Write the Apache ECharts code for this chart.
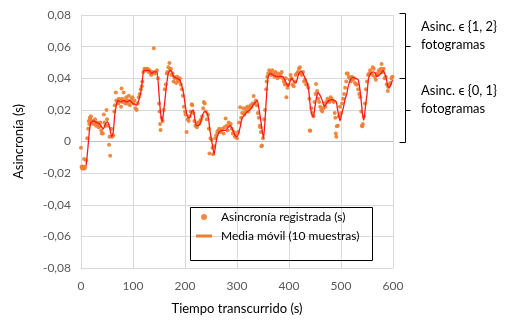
<!DOCTYPE html>
<html><head><meta charset="utf-8">
<script src="https://cdn.jsdelivr.net/npm/echarts@6/dist/echarts.min.js"></script>
<style>html,body{margin:0;padding:0;background:#fff}#c{width:507px;height:320px}</style>
</head><body><div id="c"></div>
<script>
const xTicks = [0, 100, 200, 300, 400, 500, 600];
const yTicks = [-0.08, -0.06, -0.04, -0.02, 0, 0.02, 0.04, 0.06, 0.08];
const seriesNames = ['Asincronía registrada (s)', 'Media móvil (10 muestras)'];
const annotations = ['Asinc. ϵ {1, 2}', 'fotogramas', 'Asinc. ϵ {0, 1}', 'fotogramas'];

// recorded asynchrony [time s, asynchrony s]
const recorded = [
[0,-0.004],[1,-0.016],[2,-0.017],[3,-0.016],[4,-0.017],[5,-0.016],[6,-0.011],[7,-0.017],[8,-0.016],[10,-0.012],
[12,0.002],[14,0.008],[15,0.013],[16,0.011],[17,0.015],[18,0.014],[19,0.016],[21,0.012],[22,0.013],[24,0.011],
[26,0.012],[27,0.014],[29,0.010],[31,0.012],[32,0.011],[34,0.009],[36,0.010],[37,0.012],[39,0.007],[40,0.005],
[42,0.005],[44,0.017],[45,0.012],[47,0.010],[49,0.020],[50,0.014],[52,0.010],[54,-0.002],[55,0.003],[56,-0.009],
[58,0.008],[60,0.003],[62,0.004],[64,0.019],[65,0.023],[67,0.031],[68,0.026],[70,0.025],[72,0.024],[73,0.027],
[75,0.026],[77,0.022],[78,0.0335],[79,0.027],[80,0.025],[82,0.031],[84,0.026],[85,0.024],[87,0.028],[89,0.024],
[90,0.026],[92,0.029],[94,0.023],[96,0.025],[97,0.027],[99,0.028],[101,0.024],[103,0.026],[105,0.021],[107,0.020],
[109,0.024],[111,0.028],[113,0.030],[115,0.033],[117,0.035],[118,0.038],[120,0.044],[122,0.046],[123,0.045],[125,0.046],
[127,0.045],[128,0.046],[130,0.044],[132,0.045],[134,0.043],[135,0.042],[137,0.044],[139,0.043],[140,0.059],[142,0.044],
[144,0.043],[146,0.045],[148,0.040],[150,0.024],[151,0.019],[152,0.011],[153,0.0072],[155,0.015],[157,0.013],[159,0.020],
[161,0.033],[163,0.036],[165,0.043],[166,0.044],[168,0.047],[170,0.0497],[171,0.045],[173,0.046],[174,0.042],[176,0.043],
[178,0.038],[179,0.041],[181,0.040],[183,0.037],[185,0.041],[186,0.039],[188,0.038],[190,0.040],[192,0.036],[194,0.033],
[196,0.029],[198,0.022],[200,0.019],[201,0.017],[203,0.006],[205,0.014],[207,0.013],[209,0.016],[211,0.019],[213,0.0236],
[214,0.023],[216,0.018],[218,0.013],[220,0.010],[222,0.011],[223,0.009],[225,0.012],[227,0.011],[229,0.013],[231,0.014],
[233,0.016],[235,0.021],[236,0.025],[238,0.024],[240,0.019],[242,0.014],[244,0.017],[246,0.008],[247,-0.0076],[249,0.002],
[251,0.001],[253,-0.004],[254,-0.008],[256,-0.003],[258,0.002],[260,0.004],[262,0.006],[264,0.007],[266,0.008],[268,0.006],
[270,0.007],[272,0.008],[274,0.005],[276,0.009],[278,0.0146],[280,0.010],[282,0.007],[284,0.012],[286,0.010],[288,0.011],
[290,0.008],[292,0.005],[294,0.006],[296,0.003],[298,0.004],[300,0.002],[302,0.006],[304,0.012],[306,0.0217],[308,0.015],
[310,0.018],[312,0.021],[314,0.017],[316,0.019],[318,0.021],[320,0.022],[322,0.019],[324,0.021],[326,0.023],[328,0.022],
[330,0.024],[332,0.0287],[334,0.024],[336,0.026],[338,0.023],[340,0.018],[342,0.015],[344,0.010],[345,0.009],[346,0.006],
[347,-0.003],[348,-0.0025],[350,0.002],[352,0.014],[354,0.020],[356,0.033],[357,0.038],[358,0.041],[360,0.043],[362,0.045],
[364,0.044],[366,0.042],[368,0.045],[370,0.043],[372,0.041],[374,0.044],[376,0.042],[378,0.040],[380,0.043],[382,0.041],
[384,0.042],[386,0.044],[388,0.040],[390,0.038],[392,0.036],[394,0.040],[395,0.028],[397,0.034],[399,0.036],[401,0.039],
[403,0.042],[405,0.040],[407,0.036],[409,0.035],[411,0.038],[413,0.042],[415,0.043],[417,0.044],[419,0.046],[421,0.047],
[423,0.043],[425,0.042],[427,0.044],[429,0.038],[431,0.039],[433,0.036],[435,0.036],[437,0.034],[439,0.027],[440,0.007],
[441,0.0068],[443,0.021],[445,0.018],[447,0.016],[449,0.025],[451,0.030],[452,0.0363],[454,0.032],[456,0.027],[458,0.025],
[460,0.022],[462,0.020],[464,0.019],[466,0.021],[468,0.024],[470,0.022],[472,0.025],[474,0.027],[476,0.026],[478,0.025],
[480,0.028],[482,0.027],[484,0.026],[486,0.025],[488,0.018],[489,0.015],[490,0.005],[491,0.003],[492,0.0097],[494,0.010],
[496,0.016],[498,0.022],[500,0.018],[502,0.024],[504,0.027],[506,0.030],[508,0.034],[510,0.038],[511,0.043],[513,0.043],
[515,0.041],[517,0.040],[519,0.038],[521,0.041],[523,0.039],[525,0.040],[527,0.037],[529,0.036],[531,0.036],[533,0.033],
[535,0.030],[537,0.028],[539,0.019],[540,0.010],[541,0.0097],[542,0.011],[544,0.016],[546,0.024],[548,0.033],[550,0.038],
[552,0.042],[554,0.043],[556,0.045],[558,0.043],[560,0.042],[561,0.047],[563,0.046],[565,0.041],[567,0.039],[569,0.043],
[571,0.042],[573,0.045],[575,0.044],[577,0.046],[578,0.049],[580,0.044],[582,0.046],[584,0.040],[586,0.041],[588,0.036],
[590,0.032],[591,0.0345],[593,0.036],[595,0.037],[597,0.040],[599,0.041]
];

// moving average [time s, asynchrony s]
const movingAvg = [
[10,-0.015],[13,-0.005],[16,0.006],[19,0.012],[24,0.013],[30,0.012],[36,0.011],[40,0.009],[43,0.008],[47,0.011],
[51,0.0125],[55,0.009],[59,0.003],[62,0.006],[65,0.017],[68,0.023],[71,0.026],[76,0.025],[82,0.026],[88,0.025],
[94,0.026],[100,0.024],[107,0.023],[111,0.026],[115,0.031],[118,0.039],[121,0.045],[126,0.045],[131,0.045],[136,0.043],
[140,0.044],[146,0.044],[150,0.03],[153,0.018],[156,0.0125],[159,0.019],[162,0.028],[165,0.037],[168,0.043],[172,0.045],
[175,0.044],[178,0.041],[184,0.040],[190,0.039],[194,0.035],[197,0.031],[200,0.024],[203,0.018],[206,0.015],[209,0.015],
[213,0.019],[216,0.020],[219,0.014],[222,0.010],[226,0.010],[230,0.012],[234,0.017],[238,0.019],[242,0.018],[245,0.015],
[248,0.007],[251,0.001],[254,-0.005],[256,-0.008],[259,-0.002],[262,0.003],[266,0.006],[272,0.007],[278,0.007],[283,0.009],
[287,0.010],[291,0.008],[296,0.004],[300,0.003],[303,0.005],[306,0.009],[310,0.015],[315,0.017],[320,0.019],[325,0.020],
[331,0.023],[336,0.025],[339,0.026],[342,0.021],[345,0.015],[348,0.008],[351,0.002],[354,0.014],[357,0.030],[360,0.041],
[364,0.043],[370,0.042],[376,0.041],[382,0.041],[388,0.041],[392,0.039],[396,0.036],[399,0.035],[402,0.038],[405,0.040],
[409,0.038],[413,0.037],[418,0.042],[423,0.0447],[427,0.043],[431,0.040],[435,0.037],[438,0.032],[441,0.022],[444,0.017],
[447,0.0155],[450,0.022],[453,0.028],[456,0.031],[460,0.029],[464,0.026],[468,0.022],[472,0.024],[477,0.026],[482,0.0265],
[487,0.026],[491,0.025],[494,0.019],[498,0.013],[501,0.017],[505,0.022],[508,0.027],[511,0.030],[514,0.035],[518,0.039],
[523,0.0405],[528,0.040],[533,0.039],[536,0.034],[539,0.025],[542,0.016],[544,0.0135],[547,0.022],[550,0.030],[553,0.040],
[557,0.043],[562,0.044],[566,0.043],[569,0.041],[573,0.042],[577,0.043],[581,0.045],[584,0.043],[587,0.040],[590,0.035],
[593,0.034],[596,0.036],[599,0.039]
];

const FONT = 'Lato, "Open Sans", sans-serif';
const chart = echarts.init(document.getElementById('c'), null, {renderer: 'canvas'});
const fmtY = v => Math.abs(v) < 1e-9 ? '0' : v.toFixed(2).replace('.', ',');

chart.setOption({
  animation: false,
  backgroundColor: '#fff',
  textStyle: {fontFamily: FONT},
  grid: {left: 81, right: 114, top: 15, bottom: 52, containLabel: false},
  xAxis: {
    type: 'value', min: xTicks[0], max: xTicks[xTicks.length - 1], interval: 100,
    name: 'Tiempo transcurrido (s)', nameLocation: 'middle', nameGap: 34,
    nameTextStyle: {color: '#000', fontSize: 13, fontFamily: FONT},
    axisLine: {show: true, onZero: false, lineStyle: {color: '#D9D9D9'}},
    axisTick: {show: false},
    axisLabel: {color: '#595959', fontSize: 12, margin: 12, fontFamily: FONT},
    splitLine: {show: true, lineStyle: {color: '#D9D9D9', width: 1}}
  },
  yAxis: {
    type: 'value', min: yTicks[0], max: yTicks[yTicks.length - 1], interval: 0.02,
    name: 'Asincronía (s)', nameLocation: 'middle', nameGap: 56, nameRotate: 90,
    nameTextStyle: {color: '#000', fontSize: 13, fontFamily: FONT},
    axisLine: {show: true, lineStyle: {color: '#D9D9D9'}},
    axisTick: {show: false},
    axisLabel: {color: '#595959', fontSize: 12, margin: 10, fontFamily: FONT, formatter: fmtY},
    splitLine: {show: true, lineStyle: {color: '#D9D9D9', width: 1}}
  },
  legend: {
    orient: 'vertical', left: 190, top: 211,
    itemWidth: 16, itemHeight: 6, itemGap: 7,
    padding: [0, 0, 0, 6],
    textStyle: {color: '#000', fontSize: 12, fontFamily: FONT, padding: [0, 0, 0, 4]},
    data: [
      {name: seriesNames[0], icon: 'circle', itemStyle: {color: '#ED7D31'}},
      {name: seriesNames[1], icon: 'path://M0,0L16,0L16,3L0,3Z', itemStyle: {color: '#ED7D31'}, lineStyle: {color: '#ED7D31', width: 3}}
    ]
  },
  graphic: [
    {type: 'rect', left: 190, top: 207, shape: {width: 182, height: 53}, style: {fill: 'rgba(0,0,0,0)', stroke: '#000', lineWidth: 1}, z: 100, silent: true},
    {type: 'polyline', shape: {points: [[399.5, 13.5], [405.5, 13.5], [405.5, 142.5], [399.5, 142.5]]}, style: {fill: null, stroke: '#000', lineWidth: 1}},
    {type: 'line', shape: {x1: 399.5, y1: 78.5, x2: 405.5, y2: 78.5}, style: {stroke: '#000', lineWidth: 1}},
    {type: 'line', shape: {x1: 405.5, y1: 46.5, x2: 410.5, y2: 46.5}, style: {stroke: '#000', lineWidth: 1}},
    {type: 'line', shape: {x1: 405.5, y1: 110.5, x2: 410.5, y2: 110.5}, style: {stroke: '#000', lineWidth: 1}},
    {type: 'text', left: 421, top: 20, style: {text: annotations[0], fill: '#000', font: '13px ' + FONT}},
    {type: 'text', left: 421, top: 38, style: {text: annotations[1], fill: '#000', font: '13px ' + FONT}},
    {type: 'text', left: 421, top: 84, style: {text: annotations[2], fill: '#000', font: '13px ' + FONT}},
    {type: 'text', left: 421, top: 102, style: {text: annotations[3], fill: '#000', font: '13px ' + FONT}}
  ],
  series: [
    {
      name: seriesNames[0], type: 'scatter', data: recorded,
      symbol: 'circle', symbolSize: 4,
      itemStyle: {color: '#ED7D31', opacity: 0.9}, z: 2
    },
    {
      name: seriesNames[1], type: 'line', data: movingAvg,
      showSymbol: false, symbol: 'none', smooth: 0.2,
      lineStyle: {color: '#FF1A1A', width: 1.3},
      itemStyle: {color: '#ED7D31'}, z: 3,
      markLine: {
        silent: true, symbol: 'none', label: {show: false},
        lineStyle: {color: '#BFBFBF', width: 1, type: 'solid'},
        data: [{yAxis: 0}], z: 1
      }
    }
  ]
});
</script>
</body></html>
